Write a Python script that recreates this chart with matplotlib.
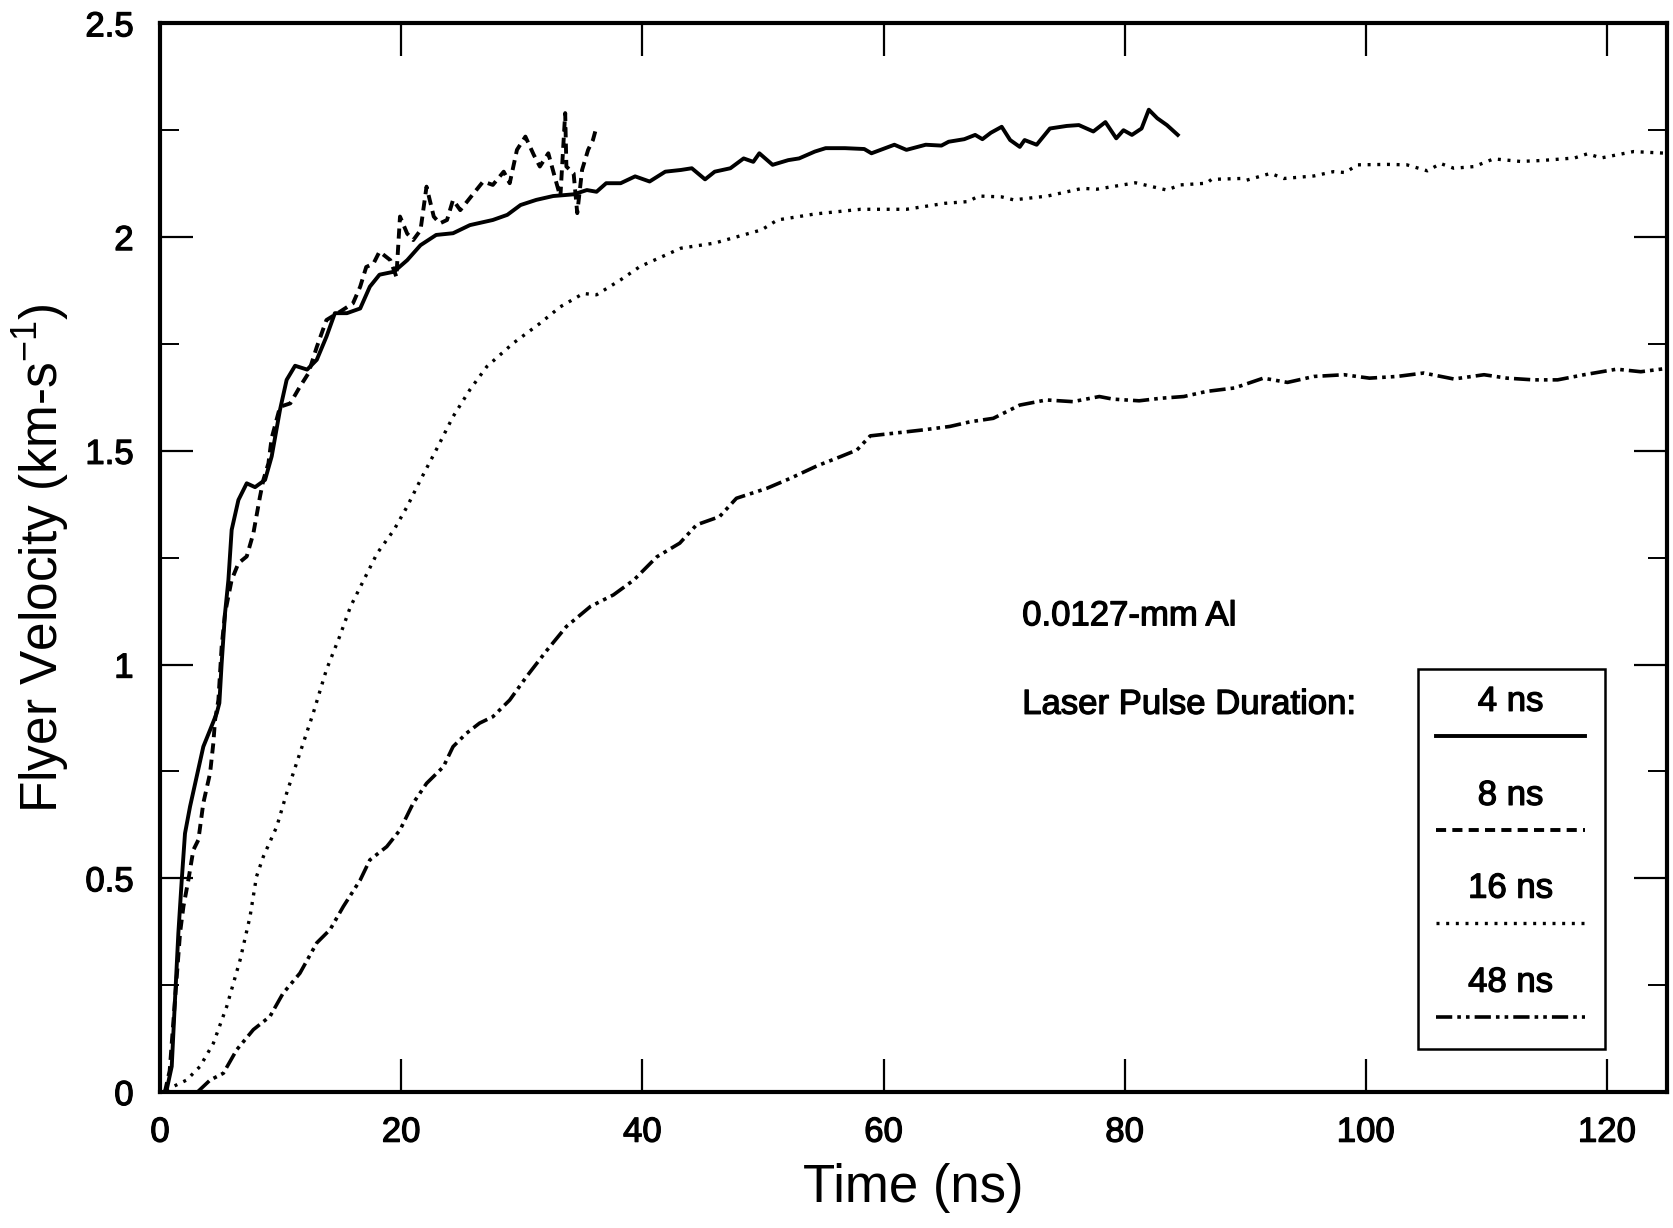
import matplotlib
matplotlib.use("Agg")
import matplotlib.pyplot as plt
from matplotlib.patches import Rectangle
import matplotlib.patheffects as pe

plt.rcParams['font.family'] = ['Liberation Sans', 'DejaVu Sans']
plt.rcParams['mathtext.fontset'] = 'custom'
plt.rcParams['mathtext.rm'] = 'Liberation Sans'
plt.rcParams['mathtext.it'] = 'Liberation Sans:italic'
plt.rcParams['mathtext.bf'] = 'Liberation Sans:bold'

# ---- data ----
t4 = [0.3, 0.55, 0.97, 1.24, 1.52, 1.8, 2.07, 2.49, 3.04, 3.59, 4.15, 4.7, 4.92, 5.11, 5.39, 5.67, 5.94,
      6.5, 7.19, 7.88, 8.71, 9.26, 9.95, 10.5, 11.2, 12.2, 13.0, 13.8, 14.5, 15.5, 16.6, 17.4, 18.2,
      19.4, 20.5, 21.6, 22.9, 24.3, 25.7, 27.6, 28.8, 29.9, 31.2, 32.6, 34.3, 35.4, 36.2, 37.0, 38.2,
      39.4, 40.6, 41.9, 43.2, 44.1, 45.2, 46.0, 47.3, 48.4, 49.2, 49.7, 50.8, 52.1, 53.0, 54.3, 55.2,
      56.8, 58.4, 59.0, 60.9, 61.9, 63.5, 64.8, 65.4, 66.7, 67.6, 68.2, 68.9, 69.8, 70.5, 71.3, 71.7,
      72.7, 73.8, 75.2, 76.2, 77.4, 78.4, 79.3, 79.9, 80.6, 81.4, 82.0, 82.7, 83.5, 84.4]
v4 = [0.0, 0.005, 0.06, 0.215, 0.372, 0.496, 0.605, 0.668, 0.738, 0.808, 0.847, 0.886, 0.91, 1.003, 1.12,
      1.198, 1.315, 1.385, 1.424, 1.415, 1.432, 1.487, 1.596, 1.666, 1.699, 1.69, 1.713, 1.767, 1.822,
      1.822, 1.833, 1.884, 1.912, 1.919, 1.946, 1.981, 2.005, 2.009, 2.028, 2.04, 2.052, 2.075, 2.087,
      2.096, 2.10, 2.11, 2.106, 2.126, 2.126, 2.142, 2.13, 2.153, 2.157, 2.161, 2.135, 2.153, 2.161,
      2.184, 2.176, 2.196, 2.169, 2.18, 2.184, 2.2, 2.208, 2.208, 2.206, 2.196, 2.216, 2.204, 2.216,
      2.214, 2.223, 2.229, 2.239, 2.229, 2.244, 2.258, 2.227, 2.211, 2.227, 2.216, 2.254, 2.26, 2.262,
      2.247, 2.269, 2.231, 2.25, 2.239, 2.254, 2.298, 2.278, 2.262, 2.239]

t8 = [0.4, 0.8, 1.2, 1.66, 1.94, 2.35, 2.76, 3.18, 3.59, 4.15, 4.42, 4.56, 4.84, 5.11, 5.39, 5.94, 6.5,
      7.19, 7.74, 8.29, 8.57, 8.99, 9.26, 9.95, 10.8, 11.6, 12.3, 13.0, 13.8, 14.9, 16.0, 16.6, 17.1,
      17.7, 18.2, 19.1, 19.6, 19.9, 20.5, 21.0, 21.6, 22.1, 22.7, 23.2, 23.8, 24.3, 24.9, 26.0, 26.8,
      27.6, 28.5, 29.0, 29.6, 30.3, 31.0, 31.5, 32.2, 32.8, 33.2, 33.6, 33.7, 34.3, 34.6, 35.0, 35.5,
      35.9, 36.2]
v8 = [0.0, 0.05, 0.2, 0.372, 0.434, 0.496, 0.566, 0.59, 0.676, 0.746, 0.816, 0.87, 0.917, 1.042, 1.12,
      1.198, 1.237, 1.253, 1.307, 1.393, 1.432, 1.471, 1.53, 1.603, 1.611, 1.65, 1.681, 1.743, 1.806,
      1.825, 1.845, 1.884, 1.93, 1.938, 1.966, 1.946, 1.907, 2.048, 2.008, 1.993, 2.016, 2.118, 2.048,
      2.032, 2.04, 2.087, 2.063, 2.102, 2.13, 2.122, 2.153, 2.126, 2.204, 2.235, 2.192, 2.165, 2.196,
      2.134, 2.094, 2.29, 2.165, 2.149, 2.056, 2.157, 2.204, 2.227, 2.258]

t16 = [0.6, 1.1, 2.2, 3.32, 4.42, 5.53, 6.64, 7.46, 8.0, 8.57, 9.68, 10.5, 11.6, 12.7, 13.8, 14.9, 15.8,
       16.9, 18.0, 19.4, 20.5, 21.6, 22.9, 24.3, 25.7, 27.1, 29.3, 31.5, 33.2, 35.1, 36.2, 38.2, 39.8,
       43.2, 46.0, 49.9, 51.2, 54.3, 58.1, 61.9, 65.1, 67.0, 67.9, 69.8, 70.8, 73.6, 76.5, 77.7, 80.9,
       83.5, 84.6, 86.8, 87.2, 89.6, 90.1, 92.1, 93.2, 95.7, 97.3, 98.3, 99.3, 101.8, 103.4, 105.1,
       106.2, 107.3, 109.0, 110.6, 112.8, 114.5, 117.3, 118.4, 119.5, 122.2, 125.0]
v16 = [0.0, 0.013, 0.028, 0.06, 0.114, 0.2, 0.309, 0.41, 0.504, 0.551, 0.621, 0.699, 0.793, 0.886, 0.988,
       1.066, 1.136, 1.198, 1.26, 1.315, 1.37, 1.432, 1.502, 1.58, 1.643, 1.697, 1.752, 1.798, 1.837,
       1.868, 1.865, 1.9, 1.931, 1.974, 1.986, 2.017, 2.04, 2.054, 2.065, 2.065, 2.079, 2.083, 2.096,
       2.094, 2.087, 2.096, 2.114, 2.112, 2.127, 2.11, 2.122, 2.126, 2.135, 2.137, 2.133, 2.149, 2.137,
       2.143, 2.153, 2.151, 2.169, 2.17, 2.169, 2.155, 2.172, 2.161, 2.165, 2.183, 2.177, 2.179, 2.185,
       2.195, 2.185, 2.2, 2.196]

t48 = [3.1, 4.15, 5.25, 6.36, 7.74, 9.12, 10.2, 11.6, 13.0, 14.1, 15.2, 16.6, 17.4, 18.8, 19.9, 21.0,
       22.1, 23.5, 24.3, 25.4, 26.5, 27.6, 29.0, 30.4, 32.1, 33.7, 35.7, 37.6, 39.3, 41.2, 43.1, 44.5,
       46.4, 47.8, 50.3, 52.3, 54.5, 56.4, 57.8, 58.9, 60.8, 63.3, 65.5, 67.2, 69.1, 71.3, 73.5, 75.7,
       77.9, 79.0, 81.2, 83.0, 84.9, 86.8, 89.1, 91.5, 93.5, 95.7, 98.2, 100.3, 102.6, 104.8, 107.3,
       109.8, 111.7, 113.9, 115.9, 118.1, 120.8, 122.8, 125.0]
v48 = [0.0, 0.028, 0.044, 0.099, 0.146, 0.177, 0.231, 0.278, 0.349, 0.38, 0.434, 0.496, 0.543, 0.574,
       0.613, 0.676, 0.722, 0.761, 0.808, 0.839, 0.863, 0.878, 0.917, 0.972, 1.034, 1.089, 1.136, 1.163,
       1.198, 1.252, 1.284, 1.327, 1.346, 1.389, 1.412, 1.436, 1.465, 1.486, 1.502, 1.535, 1.541, 1.549,
       1.557, 1.568, 1.576, 1.607, 1.619, 1.615, 1.627, 1.621, 1.617, 1.623, 1.627, 1.639, 1.647, 1.67,
       1.66, 1.674, 1.678, 1.67, 1.674, 1.682, 1.668, 1.678, 1.67, 1.666, 1.666, 1.678, 1.691, 1.685,
       1.693]

labels = ["4 ns", "8 ns", "16 ns", "48 ns"]
xticks = [0, 20, 40, 60, 80, 100, 120]
yticks = [0, 0.5, 1, 1.5, 2, 2.5]
ytick_labels = ["0", "0.5", "1", "1.5", "2", "2.5"]

heavy = [pe.withStroke(linewidth=0.9, foreground='black')]

# ---- figure ----
fig = plt.figure(figsize=(16.74, 12.28), dpi=100)
ax = fig.add_axes([0.0956, 0.1107, 0.9004, 0.8703])

styles = [
    dict(linestyle='-', linewidth=2.8),
    dict(linestyle=(0, (2.6, 1.6)), linewidth=2.8),
    dict(linestyle=(0, (0.9, 2.0)), linewidth=2.4),
    dict(linestyle=(0, (4.5, 1.4, 1, 1.4, 1, 1.4)), linewidth=2.6),
]
series = [(t4, v4), (t8, v8), (t16, v16), (t48, v48)]
for (t, v), st in zip(series, styles):
    ax.plot(t, v, color='black', solid_joinstyle='round', **st)

ax.set_xlim(0, 125)
ax.set_ylim(0, 2.5)
ax.set_xticks(xticks)
ax.set_xticklabels([str(x) for x in xticks])
ax.set_yticks(yticks)
ax.set_yticklabels(ytick_labels)
ax.set_yticks([0.25, 0.75, 1.25, 1.75, 2.25], minor=True)
ax.tick_params(axis='both', which='major', direction='in', top=True, right=True,
               length=24, width=1.6, labelsize=25)
ax.tick_params(axis='x', which='major', pad=17)
ax.tick_params(axis='y', which='major', pad=19)
ax.tick_params(axis='y', which='minor', direction='in', right=True, length=14, width=1.4)
for lab in ax.get_xticklabels() + ax.get_yticklabels():
    lab.set_path_effects(heavy)
for s in ax.spines.values():
    s.set_linewidth(3)

ax.set_xlabel("Time (ns)", fontsize=38, labelpad=10)
ax.set_ylabel(r"Flyer Velocity (km-s$\mathregular{^{-1}}$)", fontsize=37, labelpad=10)

# annotation texts
ax.text(71.5, 1.114, "0.0127-mm Al", fontsize=25, va='center', ha='left', path_effects=heavy)
ax.text(71.5, 0.907, "Laser Pulse Duration:", fontsize=25, va='center', ha='left', path_effects=heavy)

# custom legend box: label above line sample
ax.add_patch(Rectangle((104.3, 0.10), 15.5, 0.889, fill=False, edgecolor='black', linewidth=1.8))
lab_y = [0.914, 0.694, 0.477, 0.257]
line_y = [0.834, 0.614, 0.395, 0.175]
for lab, ly, sy, st in zip(labels, lab_y, line_y, styles):
    ax.text(112.0, ly, lab, fontsize=25, ha='center', va='center', path_effects=heavy)
    ax.plot([105.8, 118.2], [sy, sy], color='black', **st)

fig.savefig("out.png", dpi=100)
